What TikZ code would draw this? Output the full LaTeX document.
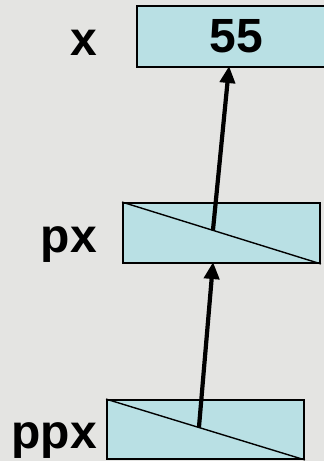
\documentclass[tikz,border=0pt]{standalone}
\usepackage{fontspec}
\setmainfont{Liberation Sans}
\usetikzlibrary{arrows.meta,calc}
\definecolor{bg}{HTML}{E4E4E2}
\definecolor{cell}{HTML}{B9E0E4}
\tikzset{
  cellbox/.style={draw=black, line width=1.8pt, fill=cell, rectangle, inner sep=0pt},
  lbl/.style={anchor=base east, inner sep=0pt, font=\fontsize{48}{56}\selectfont\bfseries},
  ptr/.style={line width=4.2pt, -{Triangle[length=17pt,width=15pt]}, shorten >=-1pt},
  diag/.style={line width=1.4pt}
}
\begin{document}
\begin{tikzpicture}[x=1pt,y=-1pt]
\fill[bg] (0,0) rectangle (324,461);
\useasboundingbox (0,0) rectangle (324,461);
% boxes
\node[cellbox, minimum width=199pt, minimum height=61pt, font=\fontsize{48}{56}\selectfont\bfseries] (x) at (236.5,36.5) {55};
\node[cellbox, minimum width=197pt, minimum height=60pt] (px) at (221.5,233) {};
\node[cellbox, minimum width=197pt, minimum height=59pt] (ppx) at (205.5,429.5) {};
\draw[diag] (px.north west) -- (px.south east);
\draw[diag] (ppx.north west) -- (ppx.south east);
% labels
\node[lbl] (lx) at (97,55) {x};
\node[lbl] (lpx) at (97,252) {px};
\node[lbl] (lppx) at (97,448) {ppx};
% pointer ends
\coordinate (pxmid) at ($(px.north west)!0.457!(px.south east)$);
\coordinate (ppxmid) at ($(ppx.north west)!0.467!(ppx.south east)$);
\coordinate (xin) at (229,67);
\coordinate (pxin) at (213,263);
\draw[ptr] (pxmid) -- (xin);
\draw[ptr] (ppxmid) -- (pxin);
\end{tikzpicture}
\end{document}
